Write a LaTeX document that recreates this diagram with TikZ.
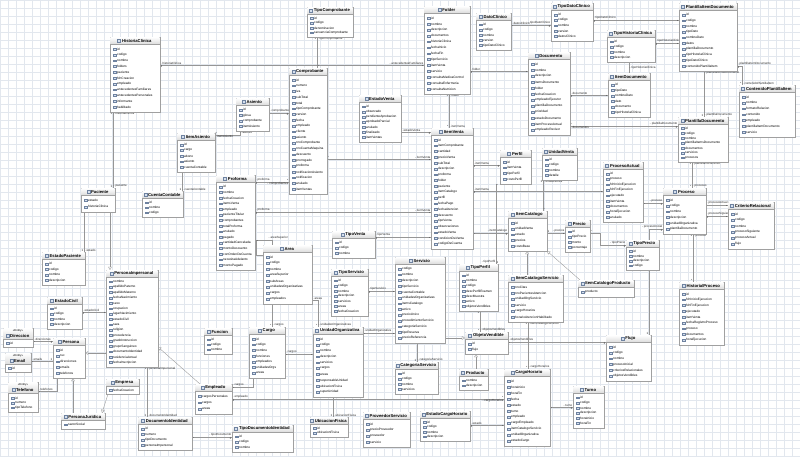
\documentclass[tikz,border=0pt]{standalone}
\usepackage{fontspec}
\setmainfont{Liberation Sans}
\usetikzlibrary{shadows,arrows.meta}

\definecolor{gridline}{RGB}{226,231,238}
\definecolor{boxline}{RGB}{160,160,160}
\definecolor{titlegray}{RGB}{220,220,220}
\definecolor{iconblue}{RGB}{110,130,160}
\definecolor{iconfill}{RGB}{214,224,238}
\definecolor{linkline}{RGB}{150,150,150}

\pgfdeclarelayer{grid}
\pgfdeclarelayer{links}
\pgfsetlayers{grid,links,main}

\tikzset{
  classbox/.style={draw=boxline, fill=white, line width=0.4pt, inner sep=0pt, outer sep=0pt,
    drop shadow={shadow xshift=0.7pt, shadow yshift=-0.7pt, fill=black!22}},
  ttl/.style={font=\fontsize{4.2}{5}\selectfont\bfseries, inner sep=0pt},
  stereo/.style={font=\fontsize{2.8}{3}\selectfont, inner sep=0pt},
  attr/.style={font=\fontsize{3.2}{3.8}\selectfont, inner sep=0pt, anchor=west},
  link/.style={draw=linkline, line width=0.35pt},
  gen/.style={link, -{Triangle[open, length=3.2pt, width=3.6pt]}},
  rl/.style={font=\fontsize{3}{3.5}\selectfont, inner sep=0.5pt, text=black!85},
}

% [stereotype]{name}{x}{y}{width}{height}{title}{attributes}
\newcommand{\umlclass}[8][]{%
  \ifx\relax#1\relax\def\hdr{7}\else\def\hdr{11.5}\fi
  \node[classbox, minimum width=#5, minimum height=#6, anchor=north west] (#2) at (#3,#4) {};
  \shade[top color=white, bottom color=titlegray] ([shift={(0.3,0.3)}]#2.north west) rectangle ([shift={(-0.3,\hdr)}]#2.north east);
  \draw[boxline, line width=0.3pt] ([shift={(0,\hdr)}]#2.north west) -- ([shift={(0,\hdr)}]#2.north east);
  \ifx\relax#1\relax
    \path (#2.north) ++(1.8,3.7) node[ttl] (#2-t) {#7};
  \else
    \path (#2.north) ++(0,2.8) node[stereo] (#2-s) {«#1»};
    \path (#2.north) ++(1.8,7.9) node[ttl] (#2-t) {#7};
  \fi
  \draw[iconblue, fill=iconfill, line width=0.25pt] ([xshift=-1.3pt]#2-t.west) ++(0,-1.5) rectangle ++(-3,3);
  \foreach \fld [count=\idx] in {#8} {\xdef\nrows{\idx}}
  \pgfmathsetmacro\rowstep{(#6-\hdr-4)/\nrows}
  \foreach \fld [count=\idx] in {#8} {
    \pgfmathsetmacro\ry{\hdr+2+\rowstep*(\idx-0.5)}
    \draw[iconblue, fill=iconfill, line width=0.2pt] (#2.north west) ++(3.2,\ry) ++(0,-0.9) rectangle ++(2.6,1.8);
    \path (#2.north west) ++(7,\ry) node[attr] (#2-a\idx) {\fld};
  }
}

\begin{document}
\begin{tikzpicture}[x=1pt, y=-1pt]
  \useasboundingbox (0,0) rectangle (800,456);
  \begin{pgfonlayer}{grid}
    \fill[white] (0,0) rectangle (800,456);
    \draw[gridline, line width=0.3pt, step=8pt] (0,456) grid (800,0);
  \end{pgfonlayer}

  % --- Clinica y documentos
  \umlclass{hc}{110}{37}{50}{75}{HistoriaClinica}{id,codigo,nombre,folders,paciente,fchCreacion,empleado,antecedentesFamiliares,antecedentesPersonales,informante,habilitado}
  \umlclass{folder}{424}{6}{46}{88}{Folder}{id,nombre,descripcion,documentos,historiaClinica,fechaInicio,fechaFin,tipoServicio,itemVenta,servicio,consultaMedicaControl,consultaEnfermeria,consultaNutricion}
  \umlclass{datocli}{476}{13}{35}{37}{DatoClinico}{id,codigo,nombre,version,tipoDatoClinico}
  \umlclass{tipodato}{551}{3}{42}{38}{TipoDatoClinico}{id,codigo,nombre,version,datosClinico}
  \umlclass{documento}{528}{52}{42}{83}{Documento}{id,nombre,descripcion,itemsDocumento,folder,fechaCreacion,empleadoEjecutor,plantillaDocumento,prioridad,estadoDocumento,itemProcesoActual,empleadoRevisor}
  \umlclass{pid}{679}{3}{58}{68}{PlantillaItemDocumento}{id,codigo,nombre,tipoDato,nombreDato,datos,plantillaDocumento,tipoHistoriaClinica,tipoDatoClinico,contenidoPlantillaItem}
  \umlclass{tipohc}{607}{30}{48}{32}{TipoHistoriaClinica}{id,codigo,nombre,descripcion}
  \umlclass{itemdoc}{608}{73}{42}{44}{ItemDocumento}{id,tipoDato,nombreDato,dato,documento,tipoHistoriaClinica}
  \umlclass{cpi}{739}{85}{56}{52}{ContenidoPlantillaItem}{id,nombre,formatoRelacion,contenido,empleado,plantillaItemDocumento,servicio}
  \umlclass{plantdoc}{678}{117}{50}{45}{PlantillaDocumento}{id,codigo,nombre,plantillaItemsDocumento,documentos,servicios,procesos}

  % --- Contabilidad y ventas
  \umlclass{tipocomp}{307}{7}{46}{30}{TipoComprobante}{id,codigo,denominacion,secuenciaComprobante}
  \umlclass{comp}{289}{68}{38}{126}{Comprobante}{id,numero,iva,subTotal,total,tipoComprobante,version,fecha,empleado,cliente,asiento,nroComprobante,nroCuentaMaquina,descuento,prorrogado,proforma,notificacionAsiento,notificacion,anulado,itemVentas}
  \umlclass{asiento}{236}{98}{33}{33}{Asiento}{id,glosa,comprobante,itemAsiento}
  \umlclass{estadoventa}{359}{95}{42}{47}{EstadoVenta}{id,observado,pendienteAprobacion,aprobadoParcial,anulado,finalizado,itemVentas}
  \umlclass{itemasiento}{177}{133}{38}{39}{ItemAsiento}{id,cargo,abono,asiento,cuentaContable}
  \umlclass{cuenta}{142}{191}{41}{26}{CuentaContable}{id,nombre,codigo}
  \umlclass{proforma}{216}{175}{39}{95}{Proforma}{id,nombre,fechaCreacion,itemsVenta,empleado,pacienteTitular,comprobantes,totalProforma,anulado,pagado,cantidadCancelada,montoDescuento,conOrdenDeCuenta,necesitaAdelanto,montoPagado}
  \umlclass{tipoventa}{332}{231}{43}{27}{TipoVenta}{id,codigo,nombre}
  \umlclass{itemventa}{431}{128}{42}{121}{ItemVenta}{id,itemComprobante,cantidad,precioVenta,subTotal,descripcion,proforma,folder,paciente,itemCatalogo,perfil,fechaPago,fechaAtencion,descuento,tipoVenta,observaciones,estadoVenta,condicionDeVenta,codigoDeCuenta}
  \umlclass{perfil}{500}{150}{31}{34}{Perfil}{id,itemVenta,tipoPerfil,costoPerfil}
  \umlclass{unidadventa}{542}{148}{35}{32}{UnidadVenta}{id,codigo,nombre,detalle}

  % --- Procesos
  \umlclass{procact}{603}{162}{40}{60}{ProcesoActual}{id,proceso,fchInicioEjecucion,fchFinEjecucion,ejecutado,itemVenta,documentos,horaEjecucion,anulado}
  \umlclass{proceso}{663}{188}{43}{46}{Proceso}{id,codigo,nombre,descripcion,unidadOrganizativa,plantillaDocumento}
  \umlclass{criterio}{728}{202}{46}{47}{CriterioRelacional}{id,codigo,nombre,procesoSiguiente,procesoActual,flujo}
  \umlclass{histproc}{679}{282}{45}{63}{HistorialProceso}{id,fchInicioEjecucion,fchFinEjecucion,ejecutado,itemVenta,fechaRegistroProceso,proceso,documentos,horaEjecucion}
  \umlclass{flujo}{606}{335}{45}{46}{Flujo}{id,codigo,nombre,procesoInicial,criteriosRelacionales,objetosVendibles}

  % --- Catalogo
  \umlclass{itemcat}{508}{211}{39}{40}{ItemCatalogo}{id,unidadVenta,estado,precios,costoBase}
  \umlclass{precio}{565}{220}{25}{32}{Precio}{id,tipoPrecio,monto,porcentaje}
  \umlclass{tipoprecio}{626}{240}{33}{30}{TipoPrecio}{id,nombre,descripcion,codigo}
  \umlclass{icprod}{578}{280}{56}{17}{ItemCatalogoProducto}{producto}
  \umlclass{icserv}{508}{275}{55}{47}{ItemCatalogoServicio}{nroCitas,nroPacientesAtencion,unidadOrgServicio,servicio,cargoHorarios,horarioAtencionHabilitado}
  \umlclass{tipoperfil}{459}{264}{39}{47}{TipoPerfil}{id,nombre,codigo,descPerfilExamen,descMuestra,activo,objetosVendibles}
  \umlclass{servicio}{395}{257}{50}{86}{Servicio}{codigo,nombre,descripcion,tipoServicio,cuentaContable,unidadesOrganizativas,itemsCatalogo,activo,precioUnico,procedimientoServicio,categoriaServicio,tipoReserva,precioReferencia}
  \umlclass{tiposerv}{331}{269}{37}{47}{TipoServicio}{id,codigo,nombre,descripcion,servicios,areas,fechaCreacion}
  \umlclass{objvend}{465}{332}{43}{22}{ObjetoVendible}{id,flujo}
  \umlclass{producto}{459}{369}{29}{21}{Producto}{nombre,descripcion}
  \umlclass{catserv}{395}{362}{43}{32}{CategoriaServicio}{id,codigo,nombre,servicios}
  \umlclass{cargohor}{504}{369}{46}{77}{CargoHorario}{id,horaInicio,horaFin,fecha,estado,turno,empleado,cargoEmpleado,itemCatalogoServicio,unidadOrganizativa,estadoCargo}
  \umlclass{turno}{573}{386}{31}{42}{Turno}{id,codigo,nombre,descripcion,horaInicio,horaFin}
  \umlclass{estcargo}{420}{411}{50}{30}{EstadoCargoHorario}{id,codigo,nombre,descripcion}
  \umlclass{provserv}{363}{412}{47}{35}{ProveedorServicio}{id,precioProveedor,proveedor,servicio}

  % --- Organizacion
  \umlclass{area}{263}{245}{49}{59}{Area}{id,codigo,nombre,areaSuperior,subAreas,unidadesOrganizativas,cargos,empleados}
  \umlclass{uo}{313}{327}{50}{70}{UnidadOrganizativa}{id,codigo,nombre,descripcion,servicios,cargos,areas,responsableUnidad,ubicacionFisica,superUnidad}
  \umlclass{ubic}{310}{417}{38}{20}{UbicacionFisica}{id,ubicacionFisica}
  \umlclass{cargo}{249}{327}{36}{51}{Cargo}{id,codigo,nombre,funciones,empleados,unidadesOrgs,areas}
  \umlclass{funcion}{204}{328}{28}{26}{Funcion}{id,codigo,nombre}
  \umlclass{empleado}{195}{384}{37}{30}{Empleado}{cargosPersonales,cargos,areas}
  \umlclass{tipodocid}{232}{425}{61}{27}{TipoDocumentoIdentidad}{id,codigo,nombre}

  % --- Personas
  \umlclass{paciente}{81}{188}{34}{24}{Paciente}{estado,historiaClinica}
  \umlclass{estpac}{42}{252}{43}{33}{EstadoPaciente}{id,codigo,nombre,descripcion}
  \umlclass{pimp}{106}{270}{52}{97}{PersonaImpersonal}{nombre,apellidoPaterno,apellidoMaterno,fechaNacimiento,sexo,ocupacion,lugarNacimiento,estadoCivil,raza,religion,procedencia,gradoInstruccion,grupoSanguineo,documentoIdentidad,residenciaActual,fechaInscripcion}
  \umlclass{estcivil}{47}{297}{35}{32}{EstadoCivil}{id,codigo,nombre,descripcion}
  \umlclass[Entity]{direccion}{3}{328}{30}{19}{Direccion}{id}
  \umlclass[Entity]{email}{5}{353}{26}{19}{Email}{id}
  \umlclass[Entity]{telefono}{8}{382}{30}{30}{Telefono}{id,numero,tipoTelefono}
  \umlclass{persona}{53}{338}{32}{40}{Persona}{id,ruc,direcciones,emails,telefonos}
  \umlclass{pjur}{61}{413}{44}{16}{PersonaJuridica}{razonSocial}
  \umlclass{empresa}{106}{379}{33}{15}{Empresa}{fechaCreacion}
  \umlclass{docid}{138}{417}{54}{33}{DocumentoIdentidad}{id,numero,tipoDocumento,personaImpersonal}

  % --- Connectors
  \begin{pgfonlayer}{links}
    % historia clinica
    \draw[link] (hc.east|-0,65) -- (folder.west|-0,65)
      node[rl,pos=0,above right] (r1) {- historiaClinica}
      node[rl,pos=0,below right] (r2) {1}
      node[rl,pos=1,above left] (r3) {- antecedentesFamiliares}
      node[rl,pos=1,below left] (r4) {*};
    \draw[link] (hc.south-|113,0) -- (paciente.north-|113,0)
      node[rl,pos=0,below right] (r5) {- historiaClinica}
      node[rl,pos=0,below left] (r6) {1}
      node[rl,pos=1,above right] (r7) {- paciente}
      node[rl,pos=1,above left] (r8) {1};

    % comprobantes y asientos
    \draw[link] (tipocomp.south-|317,0) -- (comp.north-|317,0)
      node[rl,pos=0,below right] (r9) {- tipoComprobante}
      node[rl,pos=0,below left] (r10) {1}
      node[rl,pos=1,above right] (r11) {*};
    \draw[link] (asiento.east|-0,113) -- (comp.west|-0,113)
      node[rl,pos=0,above right] (r12) {- comprobante}
      node[rl,pos=1,below left] (r13) {1};
    \draw[link] (itemasiento.east|-0,135) -| (asiento.south-|240,0)
      node[rl,pos=0,below right] (r14) {- itemAsiento}
      node[rl,pos=0,above right] (r15) {*}
      node[rl,pos=1,below right] (r16) {- asiento}
      node[rl,pos=1,left] (r17) {1};
    \draw[link] (itemasiento.south-|182,0) -- (cuenta.north-|182,0)
      node[rl,pos=0,below left] (r18) {*}
      node[rl,pos=1,above right] (r19) {- cuentaContable}
      node[rl,pos=1,above left] (r20) {1};
    \draw[link] (proforma.east|-0,182) -- (comp.west|-0,182)
      node[rl,pos=0,above right] (r21) {- proforma}
      node[rl,pos=0,below right] (r22) {1}
      node[rl,pos=1,below left] (r23) {- comprobantes}
      node[rl,pos=1,above left] (r24) {*};

    % ventas
    \draw[link] (proforma.east|-0,212) -- (itemventa.west|-0,212)
      node[rl,pos=0,above right] (r25) {- proforma}
      node[rl,pos=0,below right] (r26) {1}
      node[rl,pos=1,above left] (r27) {- itemVenta}
      node[rl,pos=1,below left] (r28) {*};
    \draw[link] (comp.east|-0,159) -- (itemventa.west|-0,159)
      node[rl,pos=0,above right] (r29) {*}
      node[rl,pos=1,above left] (r30) {- itemVenta}
      node[rl,pos=1,below left] (r31) {*};
    \draw[link] (estadoventa.east|-0,132) -- (itemventa.west|-0,132)
      node[rl,pos=0,above right] (r32) {- estadoVenta}
      node[rl,pos=1,below left] (r33) {1};
    \draw[link] (tipoventa.east|-0,237) -- (itemventa.west|-0,237)
      node[rl,pos=0,above right] (r34) {- tipoVenta}
      node[rl,pos=0,below right] (r35) {1}
      node[rl,pos=1,below left] (r36) {*};
    \draw[link] (folder.south-|449,0) -- (itemventa.north-|449,0)
      node[rl,pos=0,below right] (r37) {- folder}
      node[rl,pos=0,below left] (r38) {1}
      node[rl,pos=1,above right] (r39) {- itemVenta}
      node[rl,pos=1,above left] (r40) {*};

    % folder y documentos
    \draw[link] (folder.east|-0,71) -- (documento.west|-0,71)
      node[rl,pos=0,above right] (r41) {- folder}
      node[rl,pos=0,below right] (r42) {1}
      node[rl,pos=1,below left] (r43) {*};
    \draw[link] (datocli.east|-0,25) -- (tipodato.west|-0,25)
      node[rl,pos=0,above right] (r44) {- datosClinico}
      node[rl,pos=0,below right] (r45) {*}
      node[rl,pos=1,above left] (r46) {- tipoDatoClinico}
      node[rl,pos=1,below left] (r47) {1};
    \draw[link] (tipodato.east|-0,20) -- (pid.west|-0,20)
      node[rl,pos=0,above right] (r48) {- tipoDatoClinico}
      node[rl,pos=0,below right] (r49) {1}
      node[rl,pos=1,below left] (r50) {*};
    \draw[link] (tipohc.east|-0,43) -- (pid.west|-0,43)
      node[rl,pos=0,above right] (r51) {- tipoHistoriaClinica}
      node[rl,pos=0,below right] (r52) {1}
      node[rl,pos=1,below left] (r53) {*};
    \draw[link] (tipohc.south-|629,0) -- (itemdoc.north-|629,0)
      node[rl,pos=0.5,right] (r54) {- tipoHistoriaClinica};
    \draw[link] (documento.east|-0,95) -- (itemdoc.west|-0,95)
      node[rl,pos=0,above right] (r55) {- documento}
      node[rl,pos=0,below right] (r56) {1}
      node[rl,pos=1,below left] (r57) {*};
    \draw[link] (documento.east|-0,126) -- (plantdoc.west|-0,126)
      node[rl,pos=0,above right] (r58) {*}
      node[rl,pos=0,below right] (r59) {- documentos}
      node[rl,pos=1,above left] (r60) {- plantillaDocumento}
      node[rl,pos=1,below left] (r61) {1};
    \draw[link] (pid.south-|704,0) -- (plantdoc.north-|704,0)
      node[rl,pos=0,below right] (r62) {- plantillaItemsDocumento}
      node[rl,pos=0,below left] (r63) {*}
      node[rl,pos=1,above right] (r64) {- plantillaDocumento}
      node[rl,pos=1,above left] (r65) {1};
    \draw[link] (pid.east|-0,66) -| (cpi.north-|742,0)
      node[rl,pos=0,above right] (r66) {- plantillaItemDocumento}
      node[rl,pos=0,below right] (r67) {1}
      node[rl,pos=1,above right] (r68) {- contenidoPlantillaItem}
      node[rl,pos=1,above left] (r69) {*};

    % procesos
    \draw[link] (plantdoc.south-|692,0) -- (proceso.north-|692,0)
      node[rl,pos=0,below right] (r70) {- plantillaDocumento}
      node[rl,pos=0,below left] (r71) {1}
      node[rl,pos=1,above right] (r72) {- procesos}
      node[rl,pos=1,above left] (r73) {*};
    \draw[link] (procact.east|-0,203) -- (proceso.west|-0,203)
      node[rl,pos=0,below right] (r74) {*}
      node[rl,pos=1,above left] (r75) {- proceso}
      node[rl,pos=1,below left] (r76) {1};
    \draw[link] (proceso.east|-0,205) -- (criterio.west|-0,205)
      node[rl,pos=0,above right] (r77) {- procesoActual}
      node[rl,pos=1,below left] (r79) {*};
    \draw[link] (proceso.east|-0,216) -- (criterio.west|-0,216)
      node[rl,pos=0,above right] (r80) {- procesoSiguiente}
      node[rl,pos=0,below right] (r81) {1}
      node[rl,pos=1,below left] (r82) {*};
    \draw[link] (proceso.south-|693,0) -- (histproc.north-|693,0)
      node[rl,pos=0,below right] (r83) {- proceso}
      node[rl,pos=0,below left] (r84) {1}
      node[rl,pos=1,above left] (r85) {*};
    \draw[link] (proceso.west|-0,229) -| (flujo.north-|649,0)
      node[rl,pos=0,above left] (r86) {- procesoInicial}
      node[rl,pos=0,below left] (r87) {1}
      node[rl,pos=1,above left] (r88) {1};

    % catalogo
    \draw[link] (itemventa.east|-0,165) -- (perfil.west|-0,165)
      node[rl,pos=0,above right] (r89) {- itemVenta}
      node[rl,pos=0,below right] (r90) {1}
      node[rl,pos=1,below left] (r91) {1};
    \draw[link] (itemventa.east|-0,191) -- (procact.west|-0,191)
      node[rl,pos=0,above right] (r92) {- itemVenta}
      node[rl,pos=0,below right] (r93) {1}
      node[rl,pos=1,below left] (r94) {*};
    \draw[link] (itemventa.east|-0,233) -- (itemcat.west|-0,233)
      node[rl,pos=0,below right] (r95) {*}
      node[rl,pos=1,above left] (r96) {- itemCatalogo}
      node[rl,pos=1,below left] (r97) {1};
    \draw[link] (perfil.south-|496,0) -- (tipoperfil.north-|496,0)
      node[rl,pos=0,below right] (r98) {*}
      node[rl,pos=1,above left] (r99) {- tipoPerfil}
      node[rl,pos=1,above right] (r100) {1};
    \draw[link] (unidadventa.south-|543,0) -- (itemcat.north-|543,0)
      node[rl,pos=0,below right] (r101) {- unidadVenta}
      node[rl,pos=0,below left] (r102) {1}
      node[rl,pos=1,above right] (r103) {*};
    \draw[link] (itemcat.east|-0,233) -- (precio.west|-0,233)
      node[rl,pos=0,above right] (r104) {1}
      node[rl,pos=1,above left] (r105) {- precios}
      node[rl,pos=1,below left] (r106) {*};
    \draw[link] (precio.east|-0,233) node[rl,above right] (r107) {*} -| (600,245) -- (tipoprecio.west|-0,245)
      node[rl,pos=1,above left] (r108) {- tipoPrecio}
      node[rl,pos=1,below left] (r109) {1};
    \draw[gen] (icserv.north-|527,0) -- (itemcat.south-|527,0);
    \draw[gen] ([xshift=2pt]icprod.north west) -- (itemcat.south east);
    \draw[link] (tipoperfil.south-|480,0) -- (objvend.north-|480,0)
      node[rl,pos=0,below left] (r110) {1}
      node[rl,pos=1,above right] (r111) {- objetosVendibles}
      node[rl,pos=1,above left] (r112) {*};
    \draw[gen] (servicio.east|-0,338) -- (objvend.west|-0,338);
    \draw[gen] (producto.north-|476,0) -- (objvend.south-|476,0);
    \draw[link] (objvend.east|-0,342) -- (flujo.west|-0,342)
      node[rl,pos=0,above right] (r113) {- objetosVendibles}
      node[rl,pos=0,below right] (r114) {*}
      node[rl,pos=1,below left] (r115) {1};
    \draw[link] (icserv.south-|528,0) -- (cargohor.north-|528,0)
      node[rl,pos=0,below right] (r116) {- itemCatalogoServicio}
      node[rl,pos=0,below left] (r117) {1}
      node[rl,pos=1,above right] (r118) {- cargoHorarios}
      node[rl,pos=1,above left] (r119) {*};
    \draw[link] (cargohor.east|-0,407) -- (turno.west|-0,407)
      node[rl,pos=0,below right] (r120) {*}
      node[rl,pos=1,above left] (r121) {- turno}
      node[rl,pos=1,below left] (r122) {1};
    \draw[link] (cargohor.west|-0,425) -- (estcargo.east|-0,425)
      node[rl,pos=0,below left] (r123) {*}
      node[rl,pos=1,above right] (r124) {- estado}
      node[rl,pos=1,below right] (r125) {1};
    \draw[link] (empleado.east|-0,399) -- (cargohor.west|-0,399)
      node[rl,pos=0,above right] (r126) {- empleado}
      node[rl,pos=0,below right] (r127) {1}
      node[rl,pos=1,above left] (r128) {*}
      node[rl,pos=1,below left] (r129) {- cargoHorarios};

    % servicios
    \draw[link] (servicio.south-|417,0) -- (catserv.north-|417,0)
      node[rl,pos=0,below left] (r130) {*}
      node[rl,pos=1,above right] (r131) {- categoriaServicio}
      node[rl,pos=1,above left] (r132) {1};
    \draw[link] (tiposerv.east|-0,291) -- (servicio.west|-0,291)
      node[rl,pos=0,above right] (r133) {- tipoServicio}
      node[rl,pos=0,below right] (r134) {1}
      node[rl,pos=1,below left] (r135) {*};

    % areas y cargos
    \draw[link] (area.west|-0,255) -| (256,240)
      -| (area.north-|272,0)
      node[rl,pos=0,above left] (r137) {- subAreas}
      node[rl,pos=0,below right] (r138) {*}
      node[rl,pos=0.5,above right,xshift=-4pt] (r136) {- areaSuperior};
    \draw[link] (area.south-|272,0) -- (cargo.north-|272,0)
      node[rl,pos=0,below right] (r139) {*}
      node[rl,pos=1,above right] (r140) {- cargos}
      node[rl,pos=1,above left] (r141) {*};
    \draw[link] (area.east|-0,300) -| (uo.north-|318,0)
      node[rl,pos=0,above right] (r142) {- areas}
      node[rl,pos=1,above right] (r143) {- unidadesOrganizativas}
      node[rl,pos=1,above left] (r144) {*};
    \draw[link] (cargo.east|-0,354) -- (uo.west|-0,354)
      node[rl,pos=0,above right] (r145) {- cargos}
      node[rl,pos=0,below right] (r146) {*}
      node[rl,pos=1,below left] (r147) {*};
    \draw[link] (empleado.east|-0,387) -| (cargo.south-|253,0)
      node[rl,pos=0,above right] (r148) {- cargos}
      node[rl,pos=0,below right] (r149) {*}
      node[rl,pos=1,left] (r150) {*};
    \draw[link] (uo.south-|333,0) -- (ubic.north-|333,0)
      node[rl,pos=0,below left] (r151) {*}
      node[rl,pos=1,above right] (r152) {- ubicacionFisica}
      node[rl,pos=1,above left] (r153) {1};
    \draw[link] (uo.east|-0,333) -- (servicio.west|-0,333)
      node[rl,pos=0,above right] (r154) {- unidadOrganizativa}
      node[rl,pos=0,below right] (r155) {*}
      node[rl,pos=1,below left] (r156) {*};

    % personas
    \draw[link] (pimp.south-|147,0) -- (docid.north-|147,0)
      node[rl,pos=0,below right] (r157) {- personaImpersonal}
      node[rl,pos=0,below left] (r158) {1}
      node[rl,pos=1,above right] (r159) {- documentoIdentidad}
      node[rl,pos=1,above left] (r160) {1};
    \draw[link] (docid.east|-0,437) -- (tipodocid.west|-0,437)
      node[rl,pos=0,below right] (r161) {*}
      node[rl,pos=1,above left] (r162) {- tipoDocumento}
      node[rl,pos=1,below left] (r163) {1};
    \draw[gen] (pimp.west|-0,353) -- (persona.east|-0,353);
    \draw[gen] (pjur.north-|73,0) -- (persona.south-|73,0);
    \draw[gen] ([xshift=2pt]empresa.south west) -- ([xshift=-3pt]pjur.north east);
    \draw[gen] (paciente.south-|110,0) -- (pimp.north-|110,0);
    \draw[gen] ([xshift=5pt]empleado.north west) -- (pimp.east|-0,347);
    \draw[link] (paciente.south-|84,0) -- (estpac.north-|84,0)
      node[rl,pos=0,below right] (r164) {*}
      node[rl,pos=1,above right] (r165) {- estado}
      node[rl,pos=1,above left] (r166) {1};
    \draw[link] (pimp.west|-0,312) -- (estcivil.east|-0,312)
      node[rl,pos=0,below left] (r167) {*}
      node[rl,pos=1,above right] (r168) {- estadoCivil}
      node[rl,pos=1,below right] (r169) {1};
    \draw[link] (persona.west|-0,341) -- (direccion.east|-0,341)
      node[rl,pos=0,below left] (r170) {1}
      node[rl,pos=1,above right] (r171) {- direcciones}
      node[rl,pos=1,below right] (r172) {*};
    \draw[link] (persona.west|-0,361) -- (email.east|-0,361)
      node[rl,pos=0,above left] (r173) {1}
      node[rl,pos=1,above right] (r174) {- emails}
      node[rl,pos=1,below right] (r175) {*};
    \draw[link] (telefono.east|-0,391) -| (persona.south-|57,0)
      node[rl,pos=0,above right] (r176) {- telefonos}
      node[rl,pos=0,below right] (r177) {*}
      node[rl,pos=1,left] (r178) {1};
  \end{pgfonlayer}
\end{tikzpicture}
\end{document}
